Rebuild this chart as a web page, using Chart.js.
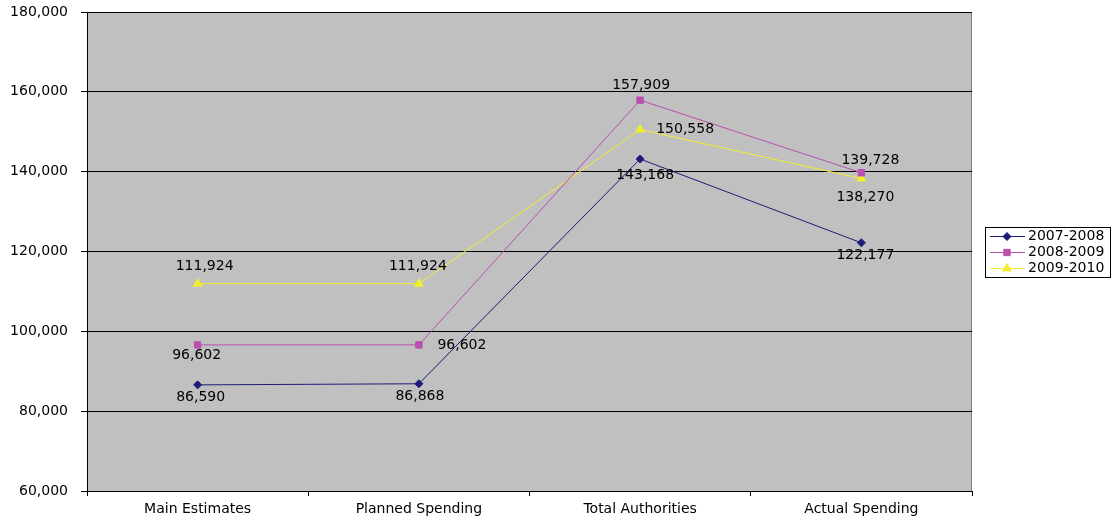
<!DOCTYPE html>
<html>
<head>
<meta charset="utf-8">
<script src="https://cdn.jsdelivr.net/npm/chart.js@4"></script>
<style>
    html, body { margin: 0; padding: 0; background: #ffffff; }
    #wrap { width: 1112px; height: 517px; }
</style>
</head>
<body>
<div id="wrap"><canvas id="spendChart" width="1112" height="517"></canvas></div>
<script>
/* ==========================================
   DATA
========================================== */

const categories = ["Main Estimates", "Planned Spending", "Total Authorities", "Actual Spending"];

const seriesNames = ["2007-2008", "2008-2009", "2009-2010"];

const values2007 = [86590, 86868, 143168, 122177];
const values2008 = [96602, 96602, 157909, 139728];
const values2009 = [111924, 111924, 150558, 138270];

const yTicks = [60000, 80000, 100000, 120000, 140000, 160000, 180000];


/* ==========================================
   STYLE
========================================== */

const colors = ["#1c1c78", "#b94fae", "#f2ee2e"];
const markers = ["rectRot", "rect", "triangle"];
const markerSizes = [4, 4.5, 5];

// where each value label sits relative to its point [dx, dy]
const labelOffsets = [
    [[3, 12], [1, 13], [5, 16], [4, 13]],
    [[-1, 10], [43, 0], [1, -15], [9, -12]],
    [[7, -17], [-1, -17], [45, 0], [4, 19]]
];

const fontFamily = "'DejaVu Sans', sans-serif";
const fontSize = 14;


/* ==========================================
   PLUGINS
========================================== */

const plotBackground = {
    id: "plotBackground",
    beforeDraw(chart) {
        const a = chart.chartArea;
        const ctx = chart.ctx;
        ctx.save();
        ctx.fillStyle = "#c0c0c0";
        ctx.fillRect(a.left, a.top, a.right - a.left, a.bottom - a.top);
        ctx.strokeStyle = "#808080";
        ctx.lineWidth = 1;
        ctx.strokeRect(a.left + 0.5, a.top + 0.5, a.right - a.left - 1, a.bottom - a.top);
        ctx.restore();
    }
};

const valueLabels = {
    id: "valueLabels",
    afterDatasetsDraw(chart) {
        const ctx = chart.ctx;
        ctx.save();
        ctx.font = fontSize + "px " + fontFamily;
        ctx.fillStyle = "#000000";
        ctx.textAlign = "center";
        ctx.textBaseline = "middle";
        chart.data.datasets.forEach((ds, i) => {
            chart.getDatasetMeta(i).data.forEach((pt, j) => {
                const off = labelOffsets[i][j];
                ctx.fillText(ds.data[j].toLocaleString("en-US"), pt.x + off[0], pt.y + off[1]);
            });
        });
        ctx.restore();
    }
};

const boxLegend = {
    id: "boxLegend",
    afterDraw(chart) {
        const ctx = chart.ctx;
        const x = 985, y = 227, w = 125, h = 50;
        ctx.save();
        ctx.fillStyle = "#ffffff";
        ctx.fillRect(x, y, w, h);
        ctx.strokeStyle = "#000000";
        ctx.lineWidth = 1;
        ctx.strokeRect(x + 0.5, y + 0.5, w, h);
        ctx.font = fontSize + "px " + fontFamily;
        ctx.textBaseline = "middle";
        chart.data.datasets.forEach((ds, i) => {
            const cy = y + 9 + i * 16;
            ctx.strokeStyle = colors[i];
            ctx.fillStyle = colors[i];
            ctx.beginPath();
            ctx.moveTo(x + 5, cy + 0.5);
            ctx.lineTo(x + 40, cy + 0.5);
            ctx.stroke();
            Chart.helpers.drawPoint(ctx, {
                pointStyle: markers[i],
                radius: markerSizes[i],
                borderWidth: 1
            }, x + 22, cy + 0.5);
            ctx.fillStyle = "#000000";
            ctx.fillText(ds.label, x + 43, cy);
        });
        ctx.restore();
    }
};


/* ==========================================
   CHART
========================================== */

const datasets = [values2007, values2008, values2009].map((vals, i) => ({
    label: seriesNames[i],
    data: vals,
    borderColor: colors[i],
    backgroundColor: colors[i],
    borderWidth: 1,
    pointStyle: markers[i],
    pointRadius: markerSizes[i],
    pointHoverRadius: markerSizes[i],
    pointBackgroundColor: colors[i],
    pointBorderColor: colors[i],
    tension: 0
}));

new Chart(document.getElementById("spendChart"), {

    type: "line",

    data: {
        labels: categories,
        datasets: datasets
    },

    options: {

        responsive: false,
        animation: false,
        events: [],

        layout: {
            padding: { left: 0, right: 140, top: 12, bottom: 0 }
        },

        plugins: {
            legend: { display: false },
            tooltip: { enabled: false }
        },

        scales: {

            x: {
                offset: true,
                grid: {
                    offset: true,
                    drawOnChartArea: false,
                    drawTicks: true,
                    tickLength: 5,
                    tickColor: "#000000"
                },
                border: { color: "#000000", width: 1 },
                ticks: {
                    color: "#000000",
                    padding: 5,
                    maxRotation: 0,
                    font: { family: fontFamily, size: fontSize }
                },
                afterFit(scale) {
                    scale.height = 26;
                    scale.paddingLeft = 0;
                    scale.paddingRight = 0;
                }
            },

            y: {
                min: yTicks[0],
                max: yTicks[yTicks.length - 1],
                afterBuildTicks(scale) {
                    scale.ticks = yTicks.map(v => ({ value: v }));
                },
                grid: {
                    color: "#000000",
                    tickColor: "#000000",
                    tickLength: 6,
                    drawTicks: true
                },
                border: { color: "#000000", width: 1 },
                ticks: {
                    color: "#000000",
                    padding: 13,
                    font: { family: fontFamily, size: fontSize },
                    callback: v => v.toLocaleString("en-US")
                },
                afterFit(scale) {
                    scale.width = 87;
                    scale.paddingTop = 0;
                    scale.paddingBottom = 0;
                }
            }

        }

    },

    plugins: [plotBackground, valueLabels, boxLegend]

});
</script>
</body>
</html>
